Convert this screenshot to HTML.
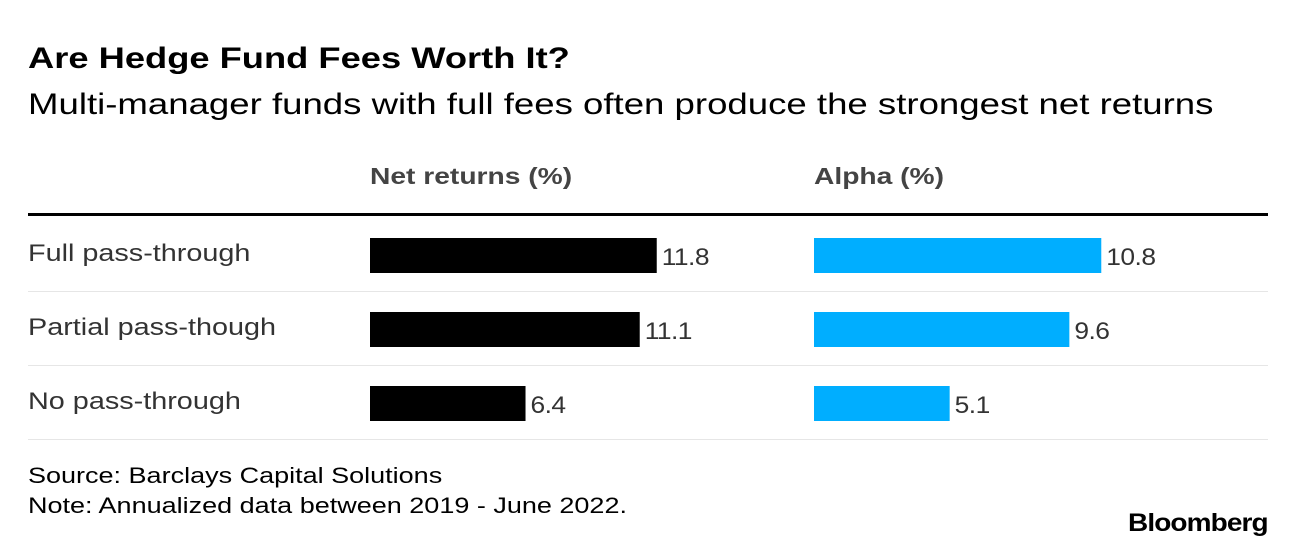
<!DOCTYPE html>
<html><head><meta charset="utf-8"><style>
body{margin:0;width:1296px;height:548px;background:#fff;font-family:"Liberation Sans",Arial,sans-serif;overflow:hidden;position:relative}
.t{position:absolute;white-space:nowrap;transform-origin:0 0}
</style></head><body>
<div class="t" style="left:28px;top:42px;font-size:30px;font-weight:bold;color:#000;transform:scaleX(1.21)">Are Hedge Fund Fees Worth It?</div>
<div class="t" style="left:28px;top:88px;font-size:29.5px;color:#000;transform:scaleX(1.24)">Multi-manager funds with full fees often produce the strongest net returns</div>
<div class="t" style="left:370px;top:163px;font-size:23.5px;font-weight:bold;color:#444;transform:scaleX(1.2)">Net returns (%)</div>
<div class="t" style="left:814px;top:163px;font-size:23.5px;font-weight:bold;color:#444;transform:scaleX(1.2)">Alpha (%)</div>
<div style="position:absolute;left:28px;top:213px;width:1240px;height:3px;background:#000"></div>
<svg id="chart" width="1296" height="548" style="position:absolute;left:0;top:0"></svg>
<div class="t" style="left:28px;top:463px;font-size:22.5px;color:#000;transform:scaleX(1.2)">Source: Barclays Capital Solutions</div>
<div class="t" style="left:28px;top:493px;font-size:22.5px;color:#000;transform:scaleX(1.2)">Note: Annualized data between 2019 - June 2022.</div>
<div class="t" style="left:1128px;top:509px;font-size:25px;font-weight:bold;color:#000;letter-spacing:-0.8px;transform:scaleX(1.12)">Bloomberg</div>
<script>
const categories=["Full pass-through","Partial pass-though","No pass-through"];
const netReturns=[11.8,11.1,6.4];
const alpha=[10.8,9.6,5.1];
const svg=document.getElementById('chart');
const NS='http://www.w3.org/2000/svg';
const xNet=v=>370+v*24.3;
const xAlpha=v=>814+v*26.6;
const rowY=i=>238+i*74;
function mk(tag,attrs){const e=document.createElementNS(NS,tag);for(const k in attrs)e.setAttribute(k,attrs[k]);svg.appendChild(e);return e;}
categories.forEach((c,i)=>{
  const y=rowY(i);
  const lab=mk('text',{x:0,y:0,'font-size':24,fill:'#333','font-family':'Liberation Sans, Arial, sans-serif',transform:'translate(28,'+(y+23)+') scale(1.2,1)'});
  lab.textContent=c;
  
  
  const b1=mk('rect',{x:370,y:y,width:xNet(netReturns[i])-370,height:35,fill:'#000'});
  
  
  const v1=mk('text',{x:0,y:0,'font-size':24,fill:'#333','font-family':'Liberation Sans, Arial, sans-serif','letter-spacing':'-0.5',transform:'translate('+(xNet(netReturns[i])+5)+','+(y+27)+') scale(1.1,1)'});
  v1.textContent=netReturns[i].toFixed(1);
  
  
  const b2=mk('rect',{x:814,y:y,width:xAlpha(alpha[i])-814,height:35,fill:'#00aeff'});
  
  
  const v2=mk('text',{x:0,y:0,'font-size':24,fill:'#333','font-family':'Liberation Sans, Arial, sans-serif','letter-spacing':'-0.5',transform:'translate('+(xAlpha(alpha[i])+5)+','+(y+27)+') scale(1.1,1)'});
  v2.textContent=alpha[i].toFixed(1);
  
  
  const l=mk('rect',{x:28,y:y+53,width:1240,height:1,fill:'#e6e6e6'});
  
  
});
</script>
</body></html>
